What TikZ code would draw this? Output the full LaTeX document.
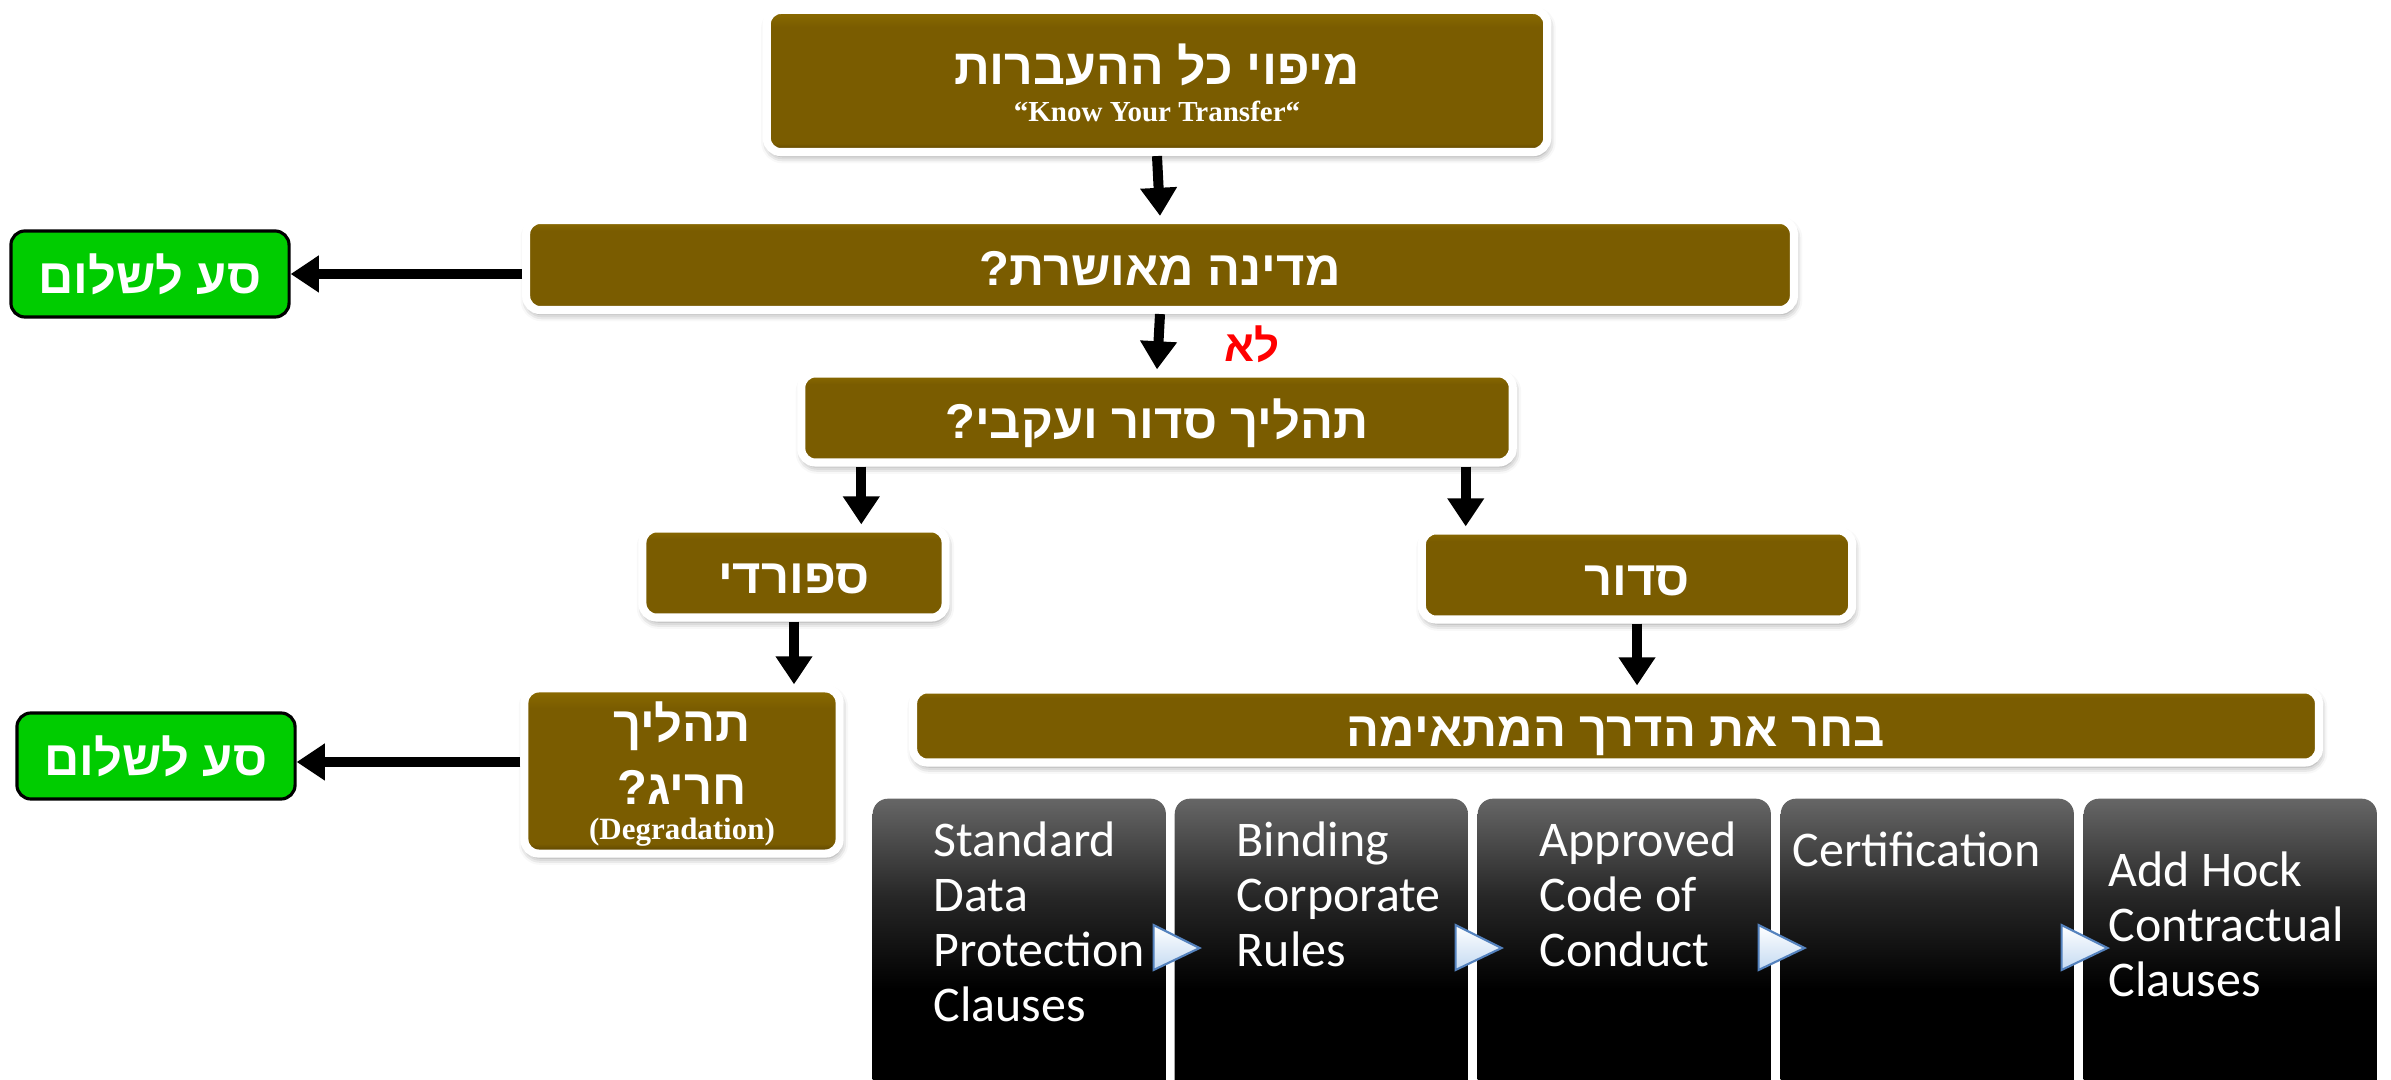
\documentclass[tikz,border=0pt]{standalone}
\usepackage{fontspec}
\setmainfont{Liberation Sans}
\newfontfamily\hebfont[Script=Hebrew]{Liberation Sans}
\newfontfamily\timesfont{Liberation Serif}
\newfontfamily\calfont{Carlito}
\TeXXeTstate=1
\usepackage{tikz}
\usetikzlibrary{arrows.meta}
\usetikzlibrary{shadows.blur}

\definecolor{boxtop}{RGB}{140,108,0}
\definecolor{boxmid}{RGB}{122,92,0}
\definecolor{boxdark}{RGB}{84,61,0}
\definecolor{goGreen}{RGB}{0,204,0}
\definecolor{chevblue}{RGB}{196,218,242}
\definecolor{chevedge}{RGB}{84,130,190}

\pgfdeclareverticalshading{brownfill}{100bp}{color(0bp)=(boxdark); color(25bp)=(boxdark); color(28bp)=(boxmid); color(69bp)=(boxmid); color(75bp)=(boxtop); color(100bp)=(boxtop)}
\pgfdeclareverticalshading{blkfill}{100bp}{color(0bp)=(black); color(50bp)=(black); color(62bp)=(black!85); color(75bp)=(black!60); color(100bp)=(black!60)}

\newcommand{\heb}[1]{{\hebfont\bfseries\beginR #1\endR}}

\begin{document}
\begin{tikzpicture}[x=0.01cm, y=-0.01cm,
  brownbox/.style={draw=white, line width=2.3pt, rounded corners=4pt,
    shading=brownfill, text=white, inner sep=0pt,
    text height=11.8pt, text depth=0pt,
    blur shadow={shadow xshift=0.4pt, shadow yshift=-1.2pt, shadow blur radius=2pt, shadow opacity=45},
    font=\fontsize{13.9}{17}\selectfont},
  boxtext/.style={text=white, inner sep=0pt, anchor=base},
  greenbox/.style={draw=black, line width=0.9pt, fill=goGreen, rounded corners=4pt,
    text=white, inner sep=0pt, text height=11pt, text depth=0pt,
    minimum width=2.78cm, minimum height=0.86cm,
    font=\fontsize{13.9}{17}\selectfont},
  arr/.style={line width=2.85pt, -{Triangle[width=10pt, length=8pt]}},
  blkbox/.style={rounded corners=4.3pt, shading=blkfill, anchor=north west, inner sep=0pt,
    minimum width=2.93cm, minimum height=3.8cm},
  blktext/.style={text=white, anchor=north west, align=left, inner sep=0pt,
    font=\calfont\fontsize{14.2}{15.65}\selectfont},
  chev/.style={top color=white, bottom color=chevblue, draw=chevedge, line width=0.6pt}
]
\useasboundingbox (0,0) rectangle (2391,1080);
\clip (0,0) rectangle (2391,1080);

% decision boxes
\node[brownbox, minimum width=7.80cm, minimum height=1.42cm] (map) at (1157,81) {};
\node[boxtext, font=\fontsize{14.2}{17}\selectfont] (maptitle) at (1157,85) {\heb{מיפוי כל ההעברות}};
\node[boxtext, font=\timesfont\bfseries\fontsize{8.25}{9}\selectfont] (mapsub) at (1157,122) {“Know Your Transfer“};
\node[brownbox, minimum width=12.67cm, minimum height=0.90cm] (country) at (1160,265) {\heb{מדינה מאושרת?}};
\node[brownbox, minimum width=7.11cm, minimum height=0.89cm] (process) at (1157,418) {\heb{תהליך סדור ועקבי?}};
\node[brownbox, minimum width=3.03cm, minimum height=0.89cm] (sporadic) at (794,573) {\heb{ספורדי}};
\node[brownbox, minimum width=4.30cm, minimum height=0.89cm] (ordered) at (1637,575) {\heb{סדור}};
\node[brownbox, minimum width=3.15cm, minimum height=1.65cm] (exceptional) at (682,771) {};
\node[boxtext, font=\fontsize{13.9}{17}\selectfont] (exctitle) at (682,742) {\heb{תהליך}};
\node[boxtext, font=\fontsize{13.9}{17}\selectfont] (excquestion) at (682,805) {\heb{חריג?}};
\node[boxtext, font=\timesfont\bfseries\fontsize{8.8}{10}\selectfont] (excsub) at (682,840) {(Degradation)};
\node[brownbox, minimum width=14.05cm, minimum height=0.73cm] (choose) at (1616,726) {\heb{בחר את הדרך המתאימה}};

% exits
\node[greenbox] (exit1) at (150,274) {\heb{סע לשלום}};
\node[greenbox] (exit2) at (156,756) {\heb{סע לשלום}};

% arrows
\draw[arr] (map.south) -- (country.north);
\draw[arr] (country.south) -- (process.north);
\node[text=red, inner sep=0pt, anchor=base, font=\fontsize{12.5}{14}\selectfont] (no) at (1252,362) {\heb{לא}};
\draw[arr] (country.west |- exit1.east) -- (exit1.east);
\draw[arr] ([xshift=0.64cm]process.south west) -- ([xshift=0.64cm]process.south west |- sporadic.north);
\draw[arr] ([xshift=-0.51cm]process.south east) -- ([xshift=-0.51cm]process.south east |- ordered.north);
\draw[arr] (sporadic.south) -- (sporadic.south |- exceptional.north);
\draw[arr] (ordered.south) -- (ordered.south |- choose.north);
\draw[arr] (exceptional.west |- 0,762) -- (exit2.east |- 0,762);

% mechanisms
\node[blkbox] (scc) at (872,798) {};
\node[blkbox] (bcr) at (1174,798) {};
\node[blkbox] (coc) at (1477,798) {};
\node[blkbox] (cert) at (1780,798) {};
\node[blkbox] (adhoc) at (2083,798) {};

\node[blktext] (scctext) at (933,821) {Standard\\Data\\Protection\\Clauses};
\node[blktext] (bcrtext) at (1236,821) {Binding\\Corporate\\Rules};
\node[blktext] (coctext) at (1539,821) {Approved\\Code of\\Conduct};
\node[blktext] (certtext) at (1792,831) {Certification};
\node[blktext] (adhoctext) at (2108,851) {Add Hock\\Contractual\\Clauses};

\shadedraw[chev] ([shift={(-13,127)}]scc.north east) -- ([shift={(33,150)}]scc.north east) -- ([shift={(-13,172)}]scc.north east) -- cycle;
\shadedraw[chev] ([shift={(-13,127)}]bcr.north east) -- ([shift={(33,150)}]bcr.north east) -- ([shift={(-13,172)}]bcr.north east) -- cycle;
\shadedraw[chev] ([shift={(-13,127)}]coc.north east) -- ([shift={(33,150)}]coc.north east) -- ([shift={(-13,172)}]coc.north east) -- cycle;
\shadedraw[chev] ([shift={(-13,127)}]cert.north east) -- ([shift={(33,150)}]cert.north east) -- ([shift={(-13,172)}]cert.north east) -- cycle;

\end{tikzpicture}
\end{document}
